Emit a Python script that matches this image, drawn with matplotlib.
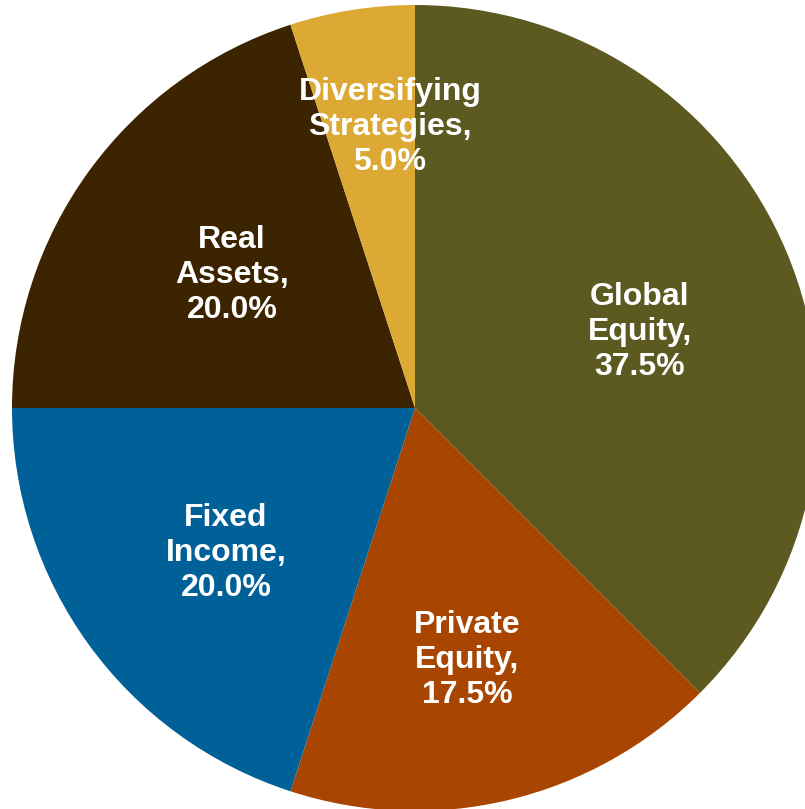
import numpy as np
import matplotlib.pyplot as plt

labels = ["Global\nEquity,", "Private\nEquity,", "Fixed\nIncome,", "Real\nAssets,", "Diversifying\nStrategies,"]
shares = [37.5, 17.5, 20.0, 20.0, 5.0]
colors = ["#5C5A20", "#A84500", "#006098", "#3C2400", "#DBA934"]
# label placement: fraction of radius and angle nudge (deg) from wedge middle
label_r = [0.589, 0.638, 0.591, 0.561, 0.70]
label_da = [-3.8, -1.8, 1.5, 0.0, -3.9]

fig = plt.figure(figsize=(8.05, 8.09), dpi=100)
ax = fig.add_axes([0, 0, 1, 1])

R = 403.0
cx, cy = 415.0, 408.0
wedges, _ = ax.pie(shares, colors=colors, startangle=90, counterclock=False,
                   radius=1.0, wedgeprops=dict(linewidth=0))

for w, lab, val, r, da in zip(wedges, labels, shares, label_r, label_da):
    mid = np.deg2rad((w.theta1 + w.theta2) / 2 + da)
    ax.text(r * np.cos(mid), r * np.sin(mid), "{}\n{:.1f}%".format(lab, val),
            ha="center", va="center", color="white", fontsize=23,
            fontweight="bold", family="Liberation Sans", linespacing=1.22)

ax.set_xlim(-cx / R, (805 - cx) / R)
ax.set_ylim(-(809 - cy) / R, cy / R)
ax.set_aspect("auto")
ax.axis("off")

fig.savefig("out.png", dpi=100)
